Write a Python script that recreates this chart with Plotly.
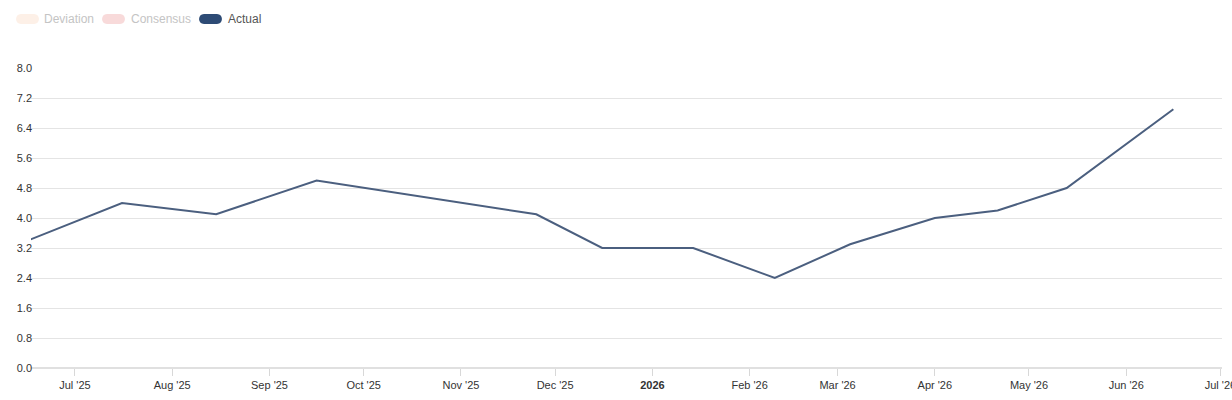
import plotly.graph_objects as go

# ---- data ----
dates = ["2025-06-16", "2025-07-16", "2025-08-15", "2025-09-16", "2025-11-25",
         "2025-12-16", "2026-01-14", "2026-02-09", "2026-03-05", "2026-04-01",
         "2026-04-21", "2026-05-13", "2026-06-16"]
actual = [3.4, 4.4, 4.1, 5.0, 4.1, 3.2, 3.2, 2.4, 3.3, 4.0, 4.2, 4.8, 6.9]

tick_dates = ["2025-07-01", "2025-08-01", "2025-09-01", "2025-10-01", "2025-11-01",
              "2025-12-01", "2026-01-01", "2026-02-01", "2026-03-01", "2026-04-01",
              "2026-05-01", "2026-06-01", "2026-07-01"]
tick_labels = ["Jul '25", "Aug '25", "Sep '25", "Oct '25", "Nov '25", "Dec '25",
               "<b>2026</b>", "Feb '26", "Mar '26", "Apr '26", "May '26", "Jun '26", "Jul '26"]
y_ticks = [0, 0.8, 1.6, 2.4, 3.2, 4.0, 4.8, 5.6, 6.4, 7.2, 8.0]

legend_names = ["Deviation", "Consensus", "Actual"]
legend_colors = ["#fdf0e7", "#f8dada", "#2d4b75"]
legend_text_colors = ["#c4c4c4", "#c4c4c4", "#555555"]

W, H = 1232, 400
L, R, T, B = 31, 10, 68, 32
PW = W - L - R

fig = go.Figure()
fig.add_trace(go.Scatter(
    x=dates, y=actual, mode="lines",
    line=dict(color="#4b5f7f", width=2),
    showlegend=False, hoverinfo="skip",
))

# legend pills (pixel coords relative to plot's top-left)
pill_x = [16, 102, 199]
text_x = [42, 129, 226]
cy = 19
for px, tx, name, col, tcol in zip(pill_x, text_x, legend_names, legend_colors, legend_text_colors):
    x0 = px - L
    x1 = x0 + 23
    r = 5
    yc = T - cy
    path = (f"M {x0 + r},{yc + r} L {x1 - r},{yc + r} "
            f"C {x1 + 1.6},{yc + r} {x1 + 1.6},{yc - r} {x1 - r},{yc - r} "
            f"L {x0 + r},{yc - r} "
            f"C {x0 - 1.6},{yc - r} {x0 - 1.6},{yc + r} {x0 + r},{yc + r} Z")
    fig.add_shape(type="path", path=path, xref="paper", yref="paper",
                  xsizemode="pixel", ysizemode="pixel", xanchor=0, yanchor=1,
                  fillcolor=col, line=dict(width=0), layer="above")
    fig.add_annotation(text=name, x=(tx - L) / PW, y=(H - B - cy) / (H - T - B),
                       xref="paper", yref="paper", xanchor="left", yanchor="middle",
                       showarrow=False, font=dict(size=12, color=tcol,
                                                  family="Liberation Sans, Arial, sans-serif"))

fig.update_layout(
    width=W, height=H,
    margin=dict(l=L, r=R, t=T, b=B),
    paper_bgcolor="white", plot_bgcolor="white",
    font=dict(family="Liberation Sans, Arial, sans-serif", size=11, color="#333333"),
    showlegend=False,
    xaxis=dict(
        type="date",
        range=["2025-06-17", "2026-07-01 12:00"],
        tickvals=tick_dates, ticktext=tick_labels,
        showgrid=False, zeroline=False,
        showline=False,
        ticks="outside", ticklen=7, tickcolor="#d8d8d8", tickwidth=1,
        tickfont=dict(size=11, color="#333333"),
        ticklabeloverflow="allow",
        automargin=False,
        fixedrange=True,
    ),
    yaxis=dict(
        range=[0, 8.0],
        tickvals=y_ticks, ticktext=[f"{v:.1f}" for v in y_ticks],
        showgrid=True, gridcolor="#e4e4e4", gridwidth=1,
        zeroline=True, zerolinecolor="#e0e0e0", zerolinewidth=2,
        showline=False, ticks="",
        tickfont=dict(size=11, color="#333333"),
        ticklabelstandoff=-2,
        automargin=False,
        fixedrange=True,
    ),
)

fig.write_html("out.html")
